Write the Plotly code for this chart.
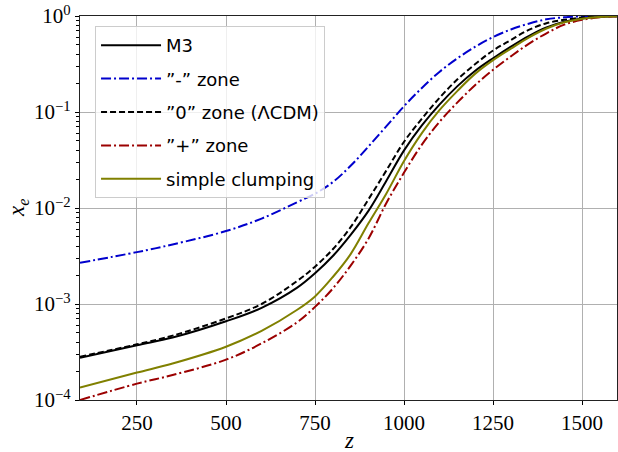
import plotly.graph_objects as go

# redshift grid
z = [90, 250, 350, 500, 600, 700, 750, 800, 850, 900, 950, 1000, 1050, 1100, 1150, 1200, 1250, 1300, 1350, 1400, 1450, 1500, 1550, 1600]

# x_e values
xe_m3 = [2.75e-4, 3.72e-4, 4.47e-4, 6.61e-4, 9.12e-4, 1.48e-3, 2.09e-3, 3.16e-3, 5.25e-3, 9.33e-3, 1.91e-2, 3.98e-2,
         7.24e-2, 0.120, 0.186, 0.269, 0.363, 0.479, 0.617, 0.759, 0.871, 0.944, 0.982, 0.995]
xe_minus = [2.69e-3, 3.47e-3, 4.17e-3, 5.75e-3, 7.76e-3, 1.15e-2, 1.41e-2, 1.86e-2, 2.75e-2, 4.37e-2, 7.08e-2, 0.115,
            0.178, 0.263, 0.363, 0.479, 0.603, 0.724, 0.832, 0.923, 0.970, 0.991, 0.998, 0.999]
xe_zero = [2.82e-4, 3.80e-4, 4.68e-4, 7.08e-4, 1.00e-3, 1.74e-3, 2.45e-3, 3.72e-3, 6.31e-3, 1.23e-2, 2.45e-2, 4.90e-2,
           8.51e-2, 0.141, 0.219, 0.316, 0.437, 0.562, 0.716, 0.841, 0.912, 0.966, 0.989, 0.995]
xe_plus = [1.00e-4, 1.48e-4, 1.82e-4, 2.63e-4, 3.89e-4, 6.46e-4, 9.33e-4, 1.45e-3, 2.51e-3, 4.79e-3, 1.12e-2, 2.34e-2,
           4.57e-2, 7.94e-2, 0.126, 0.191, 0.275, 0.380, 0.513, 0.661, 0.813, 0.912, 0.970, 0.993]
xe_clump = [1.35e-4, 1.93e-4, 2.40e-4, 3.59e-4, 5.25e-4, 8.71e-4, 1.20e-3, 1.91e-3, 3.31e-3, 6.92e-3, 1.41e-2, 3.09e-2,
            6.03e-2, 0.105, 0.166, 0.251, 0.347, 0.457, 0.596, 0.741, 0.861, 0.938, 0.979, 0.995]

names = ["M3", "”-” zone", "”0” zone (ΛCDM)", "”+” zone", "simple clumping"]
series = [xe_m3, xe_minus, xe_zero, xe_plus, xe_clump]
colors = ["#000000", "#0000CD", "#000000", "#9B0000", "#808000"]
dashes = ["solid", "10px,3px,2px,3px", "6px,3px", "10px,3px,2px,3px", "solid"]

ytick_vals = [1e-4, 1e-3, 1e-2, 1e-1, 1e0]
ytick_text = ["10<sup>−4</sup>", "10<sup>−3</sup>", "10<sup>−2</sup>", "10<sup>−1</sup>", "10<sup>0</sup>"]
xtick_vals = [250, 500, 750, 1000, 1250, 1500]

fig = go.Figure()
for i, (n, s, c, d) in enumerate(zip(names, series, colors, dashes)):
    fig.add_trace(go.Scatter(
        x=z, y=s, name=n, mode="lines",
        line=dict(color=c, width=2, dash=d, shape="spline", smoothing=1.0),
        legendgroup="g%d" % i,
    ))

minor_vals = [k * 10.0 ** e for e in range(-4, 0) for k in range(2, 10)]

serif = "Liberation Serif"
fig.update_layout(
    width=618, height=452,
    margin=dict(l=80, r=1, t=16, b=52),
    paper_bgcolor="white", plot_bgcolor="white",
    showlegend=True,
    legend=dict(
        x=0.028, y=0.974, xanchor="left", yanchor="top",
        bgcolor="rgba(255,255,255,0.8)", bordercolor="#cccccc", borderwidth=1,
        font=dict(family="DejaVu Sans", size=18, color="#000"),
        tracegroupgap=7, traceorder="grouped", itemwidth=60,
    ),
    xaxis=dict(
        range=[90, 1598], tickvals=xtick_vals, automargin=False,
        showgrid=True, gridcolor="#b0b0b0", gridwidth=1,
        ticks="outside", ticklen=4, tickcolor="#000",
        showline=True, linecolor="#222", linewidth=1.2, mirror=True,
        tickfont=dict(family=serif, size=21, color="#000"),
        zeroline=False,
    ),
    yaxis=dict(
        type="log", range=[-4, 0], tickvals=ytick_vals, ticktext=ytick_text, automargin=False,
        showgrid=True, gridcolor="#b0b0b0", gridwidth=1,
        ticks="outside", ticklen=4, tickcolor="#000",
        minor=dict(tickvals=minor_vals, ticks="outside", ticklen=2.5, tickcolor="#000", showgrid=False),
        showline=True, linecolor="#222", linewidth=1.2, mirror=True,
        tickfont=dict(family=serif, size=21, color="#000"),
        zeroline=False,
    ),
    annotations=[
        dict(text="<i>z</i>", x=0.5, y=-0.105, xref="paper", yref="paper", showarrow=False,
             yanchor="middle", font=dict(family=serif, size=23, color="#000")),
        dict(text="<i>x</i><sub><i>e</i></sub>", x=-0.1155, y=0.5, xref="paper", yref="paper",
             xanchor="center", yanchor="middle",
             showarrow=False, textangle=-90, font=dict(family=serif, size=23, color="#000")),
    ],
)

fig.write_html("out.html", config={"displayModeBar": False, "staticPlot": True})

# remove the default page margin so the figure sits at the window's top-left corner
with open("out.html", "r", encoding="utf-8") as f:
    html = f.read()
html = html.replace("<head>", "<head><style>html,body{margin:0;padding:0;overflow:hidden;}</style>", 1)
with open("out.html", "w", encoding="utf-8") as f:
    f.write(html)
